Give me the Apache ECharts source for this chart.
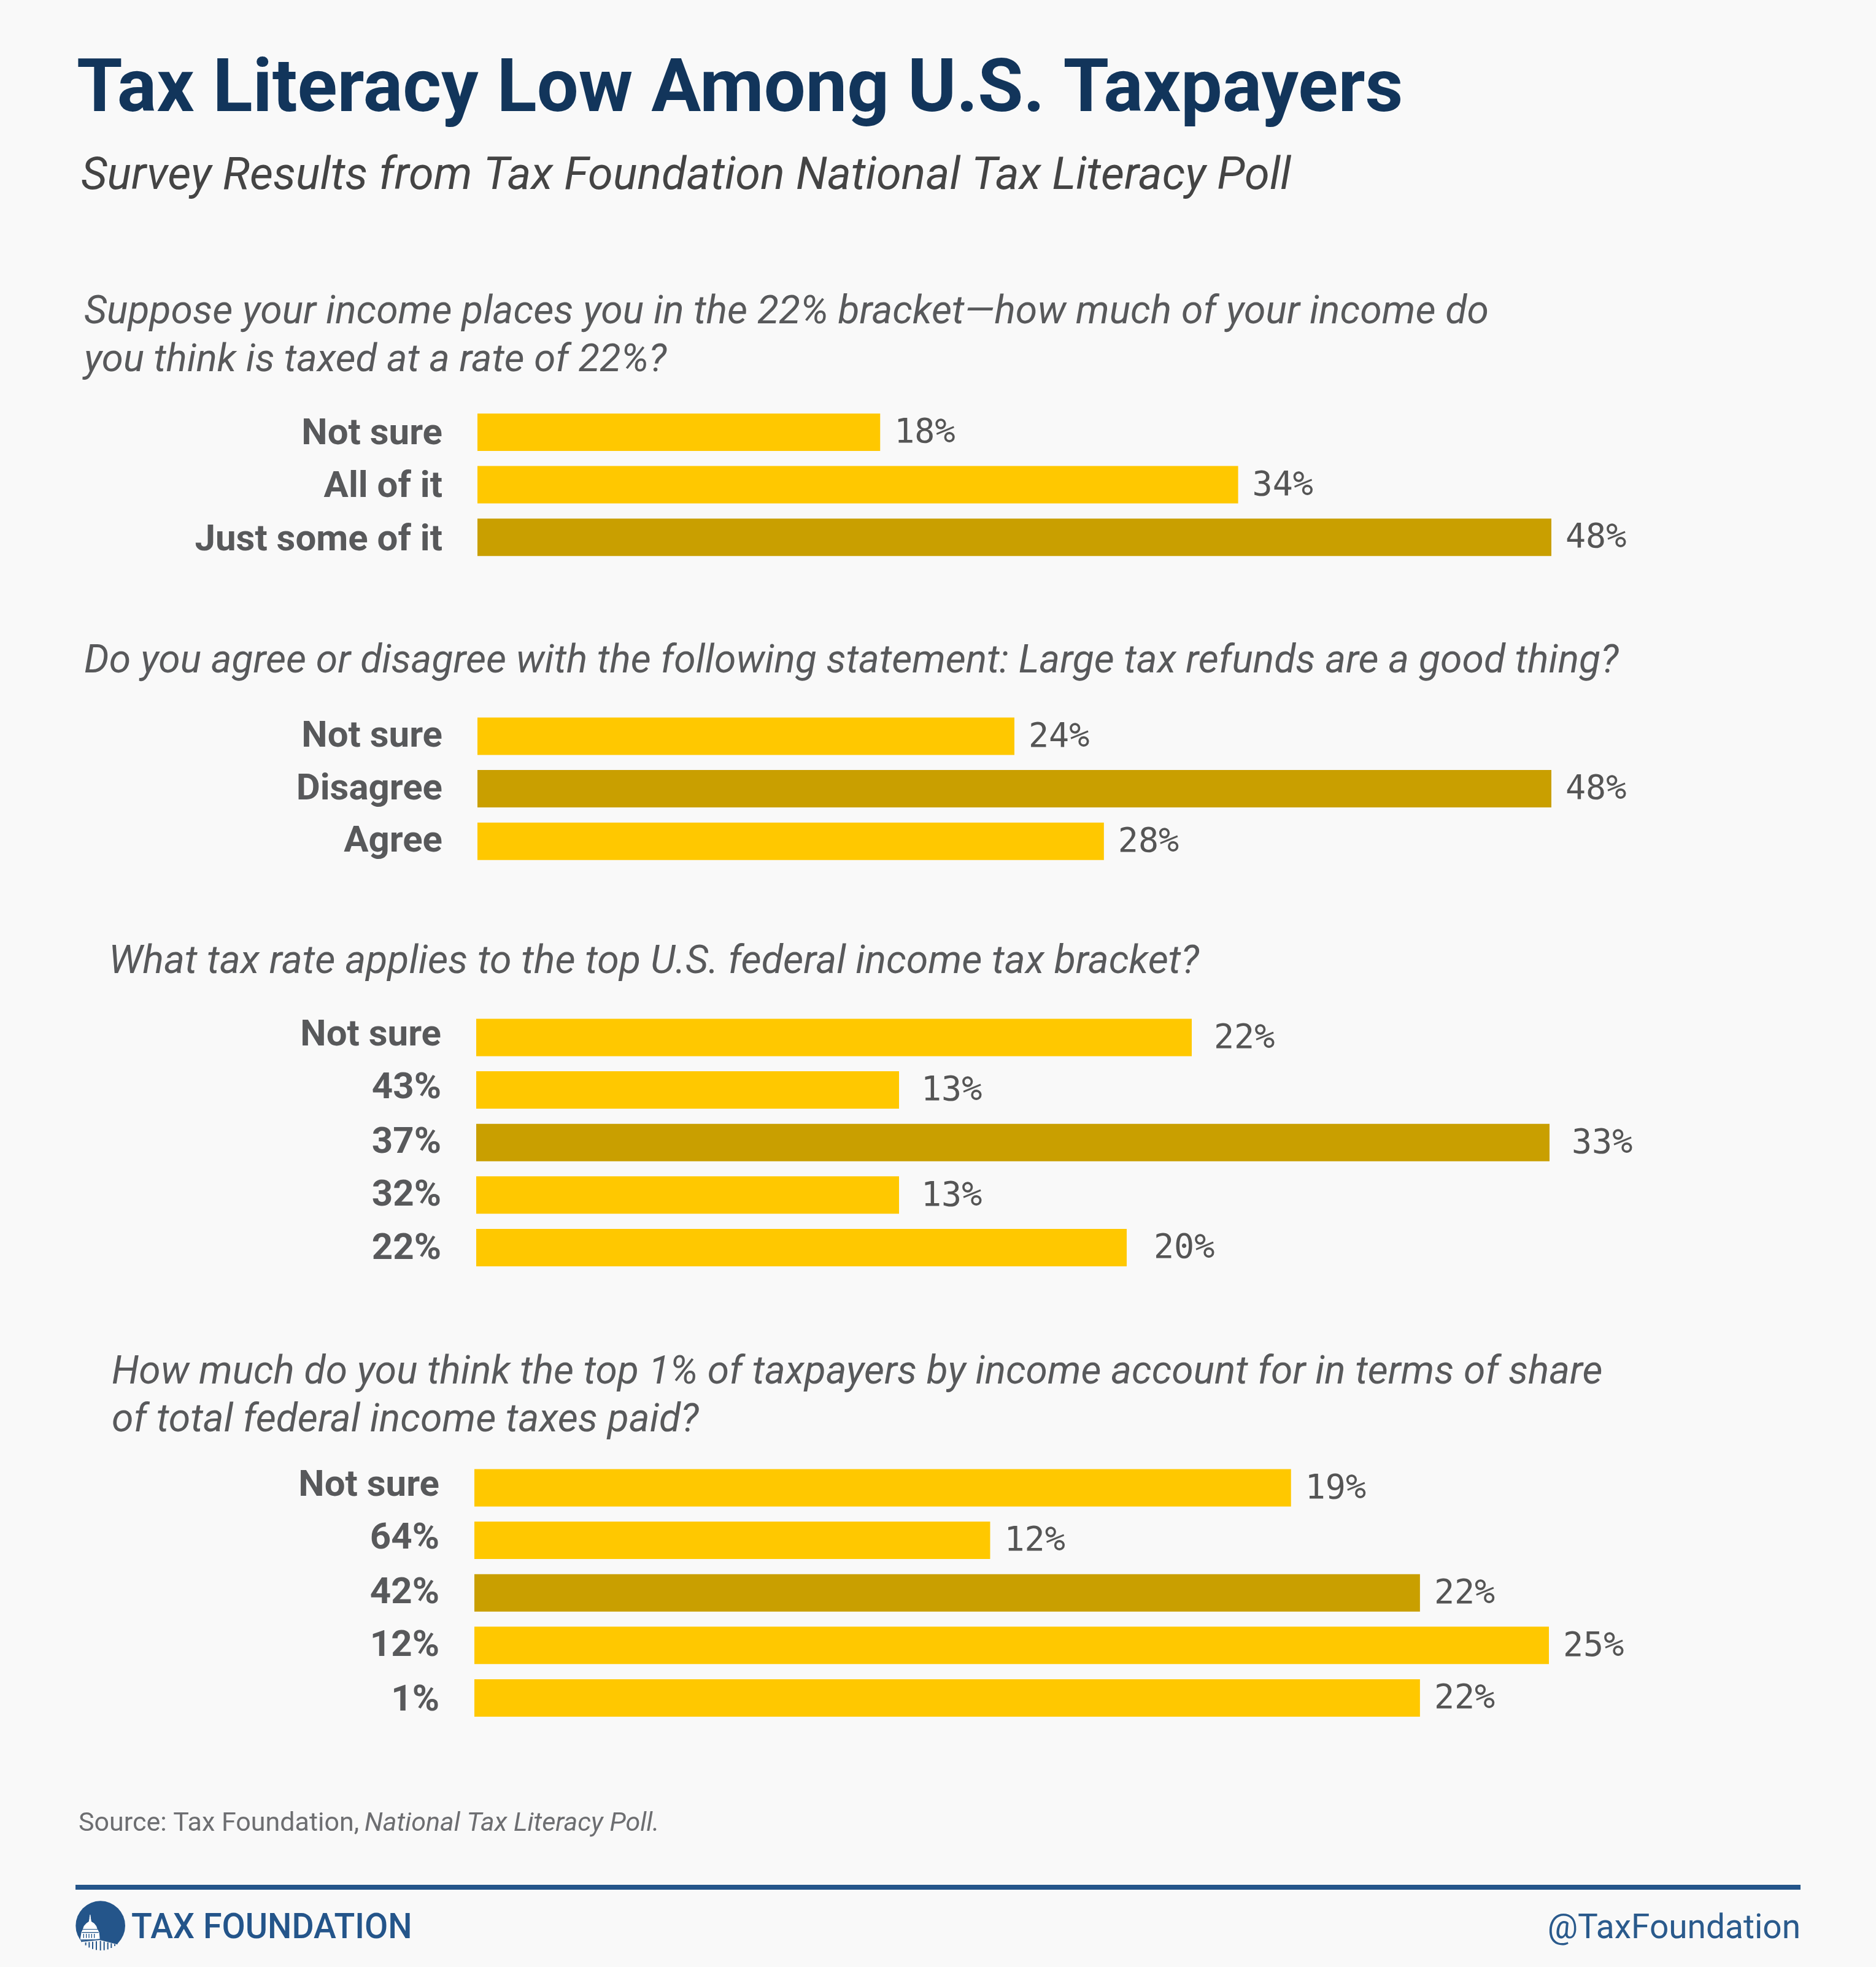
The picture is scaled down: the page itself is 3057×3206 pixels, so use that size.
<!DOCTYPE html>
<html>
<head>
<meta charset="utf-8">
<script src="https://cdn.jsdelivr.net/npm/echarts@6/dist/echarts.min.js"></script>
<style>
html,body{margin:0;padding:0;background:#f9f9f9;}
#main{width:3057px;height:3206px;}
</style>
</head>
<body>
<div id="main"></div>
<script>
// survey answers, top to bottom as drawn
var q1Cats = ["Not sure","All of it","Just some of it"];
var q1Vals = [18,34,48];
var q2Cats = ["Not sure","Disagree","Agree"];
var q2Vals = [24,48,28];
var q3Cats = ["Not sure","43%","37%","32%","22%"];
var q3Vals = [22,13,33,13,20];
var q4Cats = ["Not sure","64%","42%","12%","1%"];
var q4Vals = [19,12,22,25,22];
// index of the correct answer in each question (darker bar)
var correct = [2,1,2,2];

var titleText = "Tax Literacy Low Among U.S. Taxpayers";
var subtitleText = "Survey Results from Tax Foundation National Tax Literacy Poll";

var pitch = 85.6;
var bg = "#f9f9f9", blue = "#24558a";
// left, first bar centre, width of the axis, axis max, label gap, nudges per row
var panels = [
  {cats:q1Cats, vals:q1Vals, left:778, mid:704.5, w:1750, max:48, gap:23, nudge:[4,5,6]},
  {cats:q2Cats, vals:q2Vals, left:778, mid:1200, w:1750, max:48, gap:23, nudge:[2,2,2]},
  {cats:q3Cats, vals:q3Vals, left:776, mid:1691, w:1749, max:33, gap:36, nudge:[-2,-2,2,2,4]},
  {cats:q4Cats, vals:q4Vals, left:773, mid:2425, w:1751, max:25, gap:23, nudge:[-2,-2,2,2,6]}
];

// rich style that moves a label down (or up) by d px
function shifted(d){
  return {padding:d>=0?[d*2,0,0,0]:[0,0,-d*2,0]};
}

var grids=[],xAxes=[],yAxes=[],series=[];
panels.forEach(function(p,i){
  var rich={};
  p.nudge.forEach(function(d,r){
    rich["r"+r]=shifted(d);
    rich["r"+r].fontFamily="Roboto";
    rich["r"+r].fontWeight="bold";
    rich["r"+r].fontSize=60;
    rich["r"+r].color="#58595b";
  });
  grids.push({left:p.left,top:p.mid-pitch/2,width:p.w,height:pitch*p.cats.length,containLabel:false});
  xAxes.push({gridIndex:i,type:"value",min:0,max:p.max,show:false});
  yAxes.push({gridIndex:i,type:"category",inverse:true,data:p.cats,
    axisLine:{show:false},axisTick:{show:false},splitLine:{show:false},
    axisLabel:{margin:57,rich:rich,formatter:function(v,idx){return "{r"+idx+"|"+v+"}";}}});
  var data=[];
  for(var j=0;j<p.vals.length;j++){
    var item={value:p.vals[j],itemStyle:{color:j==correct[i]?"#c99f00":"#ffc800"}};
    if(i==2&&j==4) item.label={distance:p.gap+8};
    data.push(item);
  }
  series.push({type:"bar",xAxisIndex:i,yAxisIndex:i,barWidth:61,data:data,silent:true,animation:false,
    label:{show:true,position:"right",distance:p.gap,formatter:"{a|{c}%}",
      rich:{a:{padding:[5,0,0,0],fontFamily:"DejaVu Sans Mono",fontSize:55,color:"#555555"}}}});
});

function txt(x,y,s,font,size,color,style,weight,align){
  return {type:"text",x:x,y:y,silent:true,style:{
    text:s,x:0,y:0,fill:color,fontFamily:font,fontSize:size,fontStyle:style||"normal",
    fontWeight:weight||"normal",textAlign:align||"left",textVerticalAlign:"middle"}};
}
function poly(points,fill){
  return {type:"polygon",silent:true,shape:{points:points},style:{fill:fill}};
}
function box(x,y,w,h,fill){
  return {type:"rect",silent:true,shape:{x:x,y:y,width:w,height:h},style:{fill:fill}};
}

// capitol logo, in 3x units
var logo=[
  {type:"circle",silent:true,shape:{cx:161,cy:146,r:121},style:{fill:blue}},
  poly([[60,222],[158,212],[250,237],[250,280],[60,280]],bg),
  poly([[109,92],[112,92],[114,108],[107,108]],"#ffffff"),
  poly([[75,162],[80,148],[92,134],[104,126],[108,105],[113,105],[117,126],[130,134],[141,148],[146,162]],"#ffffff"),
  poly([[62,214],[68,178],[74,165],[148,165],[155,180],[158,212]],"#ffffff"),
  box(70,177,82,4,blue),
  box(77,186,4,20,blue),box(90,186,4,20,blue),box(103,186,4,20,blue),box(116,186,4,20,blue),box(129,186,4,20,blue),
  poly([[66,222],[158,211],[245,234],[244,238],[158,216],[66,226]],blue),
  box(86,228,6,14,blue),box(103,226,6,27,blue),box(120,224,6,36,blue),box(138,222,6,43,blue),
  box(158,220,6,47,blue),box(176,224,6,42,blue),box(194,228,6,34,blue),box(211,232,6,23,blue),box(228,236,6,9,blue)
];

var qCol="#58595b";
var gfx=[
  txt(125,151,titleText,"Roboto",120.5,"#12355b","normal","bold"),
  txt(132,290,subtitleText,"Roboto",73.9,"#444444","italic"),
  txt(137,511,"Suppose your income places you in the 22% bracket—how much of your income do","Roboto",64.3,qCol,"italic"),
  txt(137,589,"you think is taxed at a rate of 22%?","Roboto",63.6,qCol,"italic"),
  txt(137,1080,"Do you agree or disagree with the following statement: Large tax refunds are a good thing?","Roboto",64.2,qCol,"italic"),
  txt(177,1570,"What tax rate applies to the top U.S. federal income tax bracket?","Roboto",64.5,qCol,"italic"),
  txt(182,2239,"How much do you think the top 1% of taxpayers by income account for in terms of share","Roboto",64.1,qCol,"italic"),
  txt(182,2317,"of total federal income taxes paid?","Roboto",64.3,qCol,"italic"),
  txt(128,2973,"Source: Tax Foundation, ","Roboto",43,"#6d6e71"),
  txt(594,2973,"National Tax Literacy Poll.","Roboto",43,"#6d6e71","italic"),
  box(123,3072,2811,8,blue),
  {type:"group",x:110,y:3090,scaleX:1/3,scaleY:1/3,silent:true,children:logo},
  {type:"text",x:214,y:3144,scaleX:0.957,silent:true,style:{text:"TAX FOUNDATION",x:0,y:0,fill:blue,fontFamily:"Roboto",fontSize:58,fontWeight:"500",textAlign:"left",textVerticalAlign:"middle"}},
  txt(2934,3145,"@TaxFoundation","Roboto",55,"#2a5a8c","normal","normal","right")
];

var chart=echarts.init(document.getElementById("main"),null,{renderer:"canvas"});
chart.setOption({
  backgroundColor:bg,
  animation:false,
  grid:grids,xAxis:xAxes,yAxis:yAxes,series:series,
  graphic:{elements:gfx}
});
</script>
</body>
</html>
